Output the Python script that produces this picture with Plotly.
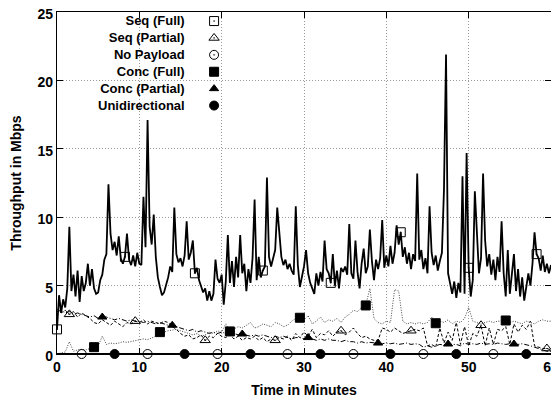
import plotly.graph_objects as go

# ---------------- data (Mbps) ----------------
STEP_MAIN = 0.25   # minutes between samples of the Seq (Full) series
STEP_LOW = 0.5     # minutes between samples of the other series

seq_full = [
    1.8, 4.3, 3.0, 4.0, 3.4, 4.8, 9.3, 4.6,
    5.8, 4.2, 6.1, 3.8, 5.7, 4.6, 5.2, 6.6,
    5.0, 6.2, 4.8, 4.4, 4.5, 5.4, 5.8, 6.9,
    7.3, 12.4, 8.8, 7.6, 8.2, 7.2, 8.6, 7.0,
    6.6, 7.1, 8.8, 6.9, 6.5, 7.2, 6.4, 7.4,
    6.6, 6.5, 11.5, 7.8, 17.1, 9.3, 8.0, 10.2,
    7.1, 5.6, 4.9, 4.3, 4.5, 5.0, 5.6, 6.4,
    6.0, 10.7, 7.3, 6.7, 7.0, 6.4, 7.2, 9.7,
    6.9, 7.4, 8.3, 5.9, 6.3, 5.4, 5.0, 4.5,
    4.8, 3.9, 4.6, 3.9, 4.4, 6.9, 5.5, 5.2,
    5.8, 3.6, 5.3, 8.7, 5.2, 6.8, 4.9, 7.1,
    5.6, 8.7, 5.9, 6.6, 4.6, 6.2, 5.2, 7.0,
    11.3, 5.4, 7.1, 5.6, 6.1, 6.4, 12.9, 7.1,
    6.4, 7.0, 7.6, 10.7, 8.6, 7.1, 6.5, 6.9,
    6.2, 6.6, 6.1, 5.8, 10.8, 6.5, 4.9, 5.6,
    6.4, 7.6, 5.9, 5.2, 4.8, 4.4, 5.9, 5.0,
    6.0, 5.3, 8.3, 6.2, 5.9, 5.2, 7.3, 5.0,
    6.1, 4.8, 6.3, 6.0, 6.4, 5.8, 9.5, 5.9,
    5.5, 8.3, 6.0, 4.8, 6.6, 7.7, 5.9, 6.4,
    9.1, 6.8, 5.4, 6.9, 6.2, 7.0, 9.8, 6.3,
    7.2, 6.4, 7.9, 6.6, 7.4, 9.4, 8.0, 8.9,
    7.1, 7.8, 6.6, 7.4, 6.2, 7.3, 6.8, 13.2,
    6.9, 7.6, 6.2, 7.0, 5.9, 10.8, 7.4, 6.5,
    7.2, 6.1, 6.8, 7.4, 12.0, 21.9, 5.9, 5.0,
    4.4, 5.3, 4.1, 5.2, 4.5, 13.0, 4.4, 14.7,
    6.3, 4.2, 5.4, 11.9, 8.3, 5.9, 7.0, 13.2,
    8.3, 6.4, 7.3, 5.8, 6.9, 5.4, 7.1, 6.0,
    9.7, 5.9, 4.2, 7.6, 4.4, 5.8, 7.3, 4.6,
    6.2, 4.2, 5.6, 3.9, 4.8, 5.9, 5.0, 6.6,
    8.9, 7.3, 7.0, 6.1, 7.2, 6.0, 6.6, 5.9,
    6.5,
]

seq_partial = [
    3.3, 3.0, 3.2, 2.9, 3.1, 2.7, 3.0, 2.8, 2.6, 2.3,
    2.2, 2.5, 2.3, 2.1, 2.4, 2.2, 2.0, 2.3, 2.2, 2.4,
    2.3, 2.5, 2.2, 2.4, 2.3, 2.2, 2.4, 2.3, 2.0, 1.8,
    1.5, 1.3, 1.4, 1.1, 1.2, 1.4, 1.0, 1.3, 1.2, 1.5,
    1.3, 1.2, 1.4, 1.1, 1.3, 1.0, 1.2, 1.1, 1.3, 1.0,
    1.2, 0.9, 1.1, 1.0, 1.2, 1.1, 1.3, 1.0, 1.5, 1.2,
    1.6, 1.3, 1.8, 1.2, 1.5, 1.4, 1.7, 1.3, 1.6, 1.7,
    1.4, 1.6, 1.9, 1.5, 1.2, 1.3, 1.1, 1.0, 1.0, 1.9,
    1.8, 1.6, 1.9, 1.7, 1.5, 1.6, 1.7, 1.8, 1.7, 1.9,
    0.6, 0.7, 0.5, 1.9, 0.8, 1.6, 1.0, 2.3, 0.7, 2.0,
    0.6, 1.5, 1.3, 2.1, 0.6, 1.9, 0.7, 1.8, 1.7, 2.0,
    0.7, 2.2, 1.6, 2.1, 1.8, 2.4, 0.6, 0.5, 0.4, 0.4,
    0.3,
]

no_payload = [
    0.0, 0.0, 0.0, 0.0, 0.0, 0.0, 0.0, 0.0, 0.0, 0.0,
    0.0, 0.0, 0.0, 0.0, 0.0, 0.0, 0.0, 0.0, 0.0, 0.0,
    0.0, 0.0, 0.0, 0.0, 0.0, 0.0, 0.0, 0.0, 0.0, 0.0,
    0.0, 0.0, 0.0, 0.0, 0.0, 0.0, 0.0, 0.0, 0.0, 0.0,
    0.0, 0.0, 0.0, 0.0, 0.0, 0.0, 0.0, 0.0, 0.0, 0.0,
    0.0, 0.0, 0.0, 0.0, 0.0, 0.0, 0.0, 0.0, 0.0, 0.0,
    0.0, 0.0, 0.0, 0.0, 0.0, 0.0, 0.0, 0.0, 0.0, 0.0,
    0.0, 0.0, 0.0, 0.0, 0.0, 0.0, 0.0, 0.0, 0.0, 0.0,
    0.0, 0.0, 0.0, 0.0, 0.0, 0.0, 0.0, 0.0, 0.0, 0.0,
    0.0, 0.0, 0.0, 0.0, 0.0, 0.0, 0.0, 0.0, 0.0, 0.0,
    0.0, 0.0, 0.0, 0.0, 0.0, 0.0, 0.0, 0.0, 0.0, 0.0,
    0.0, 0.0, 0.0, 0.0, 0.0, 0.0, 0.0, 0.0, 0.0, 0.0,
    0.0,
]

conc_full = [
    0.0, 0.1, 0.15, 0.9, 0.2, 0.3, 0.35, 0.3, 0.4, 0.5,
    0.6, 1.3, 0.7, 0.8, 0.75, 0.8, 0.9, 0.85, 0.9, 1.0,
    1.0, 1.1, 1.05, 1.2, 1.3, 1.6, 1.6, 1.7, 1.75, 1.8,
    1.7, 1.6, 1.5, 1.4, 1.5, 1.3, 1.4, 1.6, 1.5, 1.7,
    1.6, 2.2, 1.65, 1.8, 2.0, 1.9, 2.1, 2.3, 1.9, 2.0,
    2.2, 2.1, 2.0, 2.3, 2.2, 2.0, 2.1, 2.4, 2.6, 2.65,
    2.5, 2.8, 2.2, 2.4, 2.7, 2.3, 2.5, 2.4, 2.6, 2.3,
    2.7, 2.9, 3.2, 3.1, 3.4, 3.55, 4.8, 2.6, 2.3, 2.2,
    2.4, 2.3, 4.7, 4.6, 2.4, 2.2, 2.3, 2.2, 2.3, 2.2,
    2.3, 2.7, 2.25, 2.4, 2.3, 2.5, 2.2, 2.4, 2.3, 2.6,
    3.4, 2.4, 2.3, 2.2, 2.3, 2.4, 2.3, 2.4, 2.4, 2.45,
    2.3, 2.4, 2.3, 2.2, 2.4, 2.3, 2.2, 2.4, 2.5, 2.4,
    2.4,
]

conc_partial = [
    3.1, 3.2, 3.0, 3.1, 2.9, 3.0, 2.9, 2.8, 2.7, 2.8,
    2.6, 2.7, 2.7, 2.6, 2.5, 2.6, 2.5, 2.4, 2.5, 2.4,
    2.4, 2.3, 2.4, 2.3, 2.2, 2.3, 2.2, 2.1, 2.1, 2.0,
    1.9, 1.8, 1.7, 1.8, 1.6, 1.7, 1.6, 1.5, 1.6, 1.5,
    1.6, 1.5, 1.4, 1.5, 1.4, 1.46, 1.4, 1.3, 1.4, 1.3,
    1.4, 1.3, 1.2, 1.3, 1.2, 1.3, 1.2, 1.1, 1.2, 1.2,
    1.1, 1.2, 1.1, 1.0, 1.1, 1.0, 1.1, 1.0, 1.0, 0.9,
    1.0, 0.9, 0.9, 0.8, 0.9, 0.8, 0.85, 0.8, 0.8, 0.75,
    0.8, 0.75, 0.8, 0.7, 0.75, 0.8, 0.7, 0.75, 0.7, 0.5,
    0.6, 0.5, 0.6, 0.7, 0.65, 0.73, 0.7, 0.7, 0.6, 0.8,
    0.7, 0.75, 0.7, 0.8, 0.7, 0.75, 0.7, 0.8, 0.75, 0.7,
    0.75, 0.73, 0.7, 0.75, 0.7, 0.6, 0.5, 0.4, 0.3, 0.2,
    0.2,
]

unidirectional = [
    0.0, 0.0, 0.0, 0.0, 0.0, 0.0, 0.0, 0.0, 0.0, 0.0,
    0.0, 0.0, 0.0, 0.0, 0.0, 0.0, 0.0, 0.0, 0.0, 0.0,
    0.0, 0.0, 0.0, 0.0, 0.0, 0.0, 0.0, 0.0, 0.0, 0.0,
    0.0, 0.0, 0.0, 0.0, 0.0, 0.0, 0.0, 0.0, 0.0, 0.0,
    0.0, 0.0, 0.0, 0.0, 0.0, 0.0, 0.0, 0.0, 0.0, 0.0,
    0.0, 0.0, 0.0, 0.0, 0.0, 0.0, 0.0, 0.0, 0.0, 0.0,
    0.0, 0.0, 0.0, 0.0, 0.0, 0.0, 0.0, 0.0, 0.0, 0.0,
    0.0, 0.0, 0.0, 0.0, 0.0, 0.0, 0.0, 0.0, 0.0, 0.0,
    0.0, 0.0, 0.0, 0.0, 0.0, 0.0, 0.0, 0.0, 0.0, 0.0,
    0.0, 0.0, 0.0, 0.0, 0.0, 0.0, 0.0, 0.0, 0.0, 0.0,
    0.0, 0.0, 0.0, 0.0, 0.0, 0.0, 0.0, 0.0, 0.0, 0.0,
    0.0, 0.0, 0.0, 0.0, 0.0, 0.0, 0.0, 0.0, 0.0, 0.0,
    0.0,
]

x_ticks = [0, 10, 20, 30, 40, 50, 60]
y_ticks = [0, 5, 10, 15, 20, 25]

t_main = [i * STEP_MAIN for i in range(len(seq_full))]
t_low = [i * STEP_LOW for i in range(len(seq_partial))]

# ---------------- styling ----------------
POINT_INTERVAL = 25.0 / 3.0  # minutes between plotted point symbols
FONT = "Liberation Sans, Arial, Helvetica, sans-serif"

# name, times, values, line style, symbol, symbol size, symbol offset (minutes), step
series = [
    ("Seq (Full)", t_main, seq_full, dict(color="black", width=1.8), "square-open-dot", 9, 0.0, STEP_MAIN),
    ("Seq (Partial)", t_low, seq_partial, dict(color="black", width=1, dash="3px,2px"), "triangle-up-open-dot", 9, 1.4, STEP_LOW),
    ("No Payload", t_low, no_payload, dict(color="black", width=1), "circle-open-dot", 9, 2.8, STEP_LOW),
    ("Conc (Full)", t_low, conc_full, dict(color="#444444", width=1, dash="1px,1.5px"), "square", 9, 4.3, STEP_LOW),
    ("Conc (Partial)", t_low, conc_partial, dict(color="black", width=1, dash="5px,2px,1px,2px"), "triangle-up", 8, 5.6, STEP_LOW),
    ("Unidirectional", t_low, unidirectional, dict(color="black", width=2), "circle", 9, 7.0, STEP_LOW),
]

fig = go.Figure()

for name, tt, vv, line, sym, msize, off, step in series:
    fig.add_trace(go.Scatter(x=tt, y=vv, mode="lines", line=line, name=name,
                             showlegend=False, cliponaxis=False, hoverinfo="skip"))

for name, tt, vv, line, sym, msize, off, step in series:
    idx = []
    k = 0
    while True:
        i = int(round((off + k * POINT_INTERVAL) / step))
        if i >= len(vv):
            break
        idx.append(i)
        k += 1
    fig.add_trace(go.Scatter(
        x=[tt[i] for i in idx], y=[vv[i] for i in idx], mode="markers",
        marker=dict(symbol=sym, size=msize, color="black",
                    line=dict(color="black", width=1)),
        showlegend=False, cliponaxis=False, name=name, hoverinfo="skip"))

# key: labels right-aligned in one text block, symbols to their right (gnuplot style)
KEY_FONT = 13
KEY_TEXT_X = 0.262
KEY_SYM_X = 0.318
KEY_CENTER = 0.85           # paper y of the key's vertical centre
KEY_STEP = KEY_FONT * 1.3 / 342.0   # one text line, in paper units
n = len(series)
fig.add_annotation(x=KEY_TEXT_X, y=KEY_CENTER, xref="paper", yref="paper",
                   text="<br>".join("<b>%s</b>" % s[0] for s in series),
                   showarrow=False, xanchor="right", yanchor="middle", align="right",
                   borderpad=0, font=dict(family=FONT, size=KEY_FONT, color="black"))
for j, (name, tt, vv, line, sym, msize, off, step) in enumerate(series):
    ky = KEY_CENTER + ((n - 1) / 2.0 - j) * KEY_STEP
    fig.add_trace(go.Scatter(
        x=[KEY_SYM_X], y=[ky], xaxis="x2", yaxis="y2", mode="markers",
        marker=dict(symbol=sym, size=msize, color="black",
                    line=dict(color="black", width=1)),
        showlegend=False, cliponaxis=False, hoverinfo="skip"))

axis_common = dict(
    ticks="inside", ticklen=6, tickcolor="black", tickwidth=1,
    mirror="allticks", showline=True, linecolor="black", linewidth=1.2,
    showgrid=True, gridcolor="#999999", griddash="1px,2px", gridwidth=1,
    zeroline=False, automargin=False, ticklabeloverflow="allow",
    tickfont=dict(family=FONT, size=14, color="black", weight="bold"),
)

# the page body adds an 8px margin, so the figure is sized to fill the
# remaining window area
fig.update_layout(
    width=551, height=394,
    margin=dict(l=49, r=8, t=4, b=48),
    paper_bgcolor="white", plot_bgcolor="white",
    showlegend=False,
    font=dict(family=FONT, color="black"),
    xaxis=dict(range=[0, 60], tickvals=x_ticks,
               title=dict(text="<b>Time in Minutes</b>", font=dict(family=FONT, size=14), standoff=11),
               **axis_common),
    yaxis=dict(range=[0, 25], tickvals=y_ticks, ticklabelshift=2,
               title=dict(text="<b>Throughput in Mbps</b>", font=dict(family=FONT, size=14), standoff=16),
               **axis_common),
    xaxis2=dict(range=[0, 1], overlaying="x", visible=False, fixedrange=True),
    yaxis2=dict(range=[0, 1], overlaying="y", visible=False, fixedrange=True),
)

fig.write_html("out.html")
